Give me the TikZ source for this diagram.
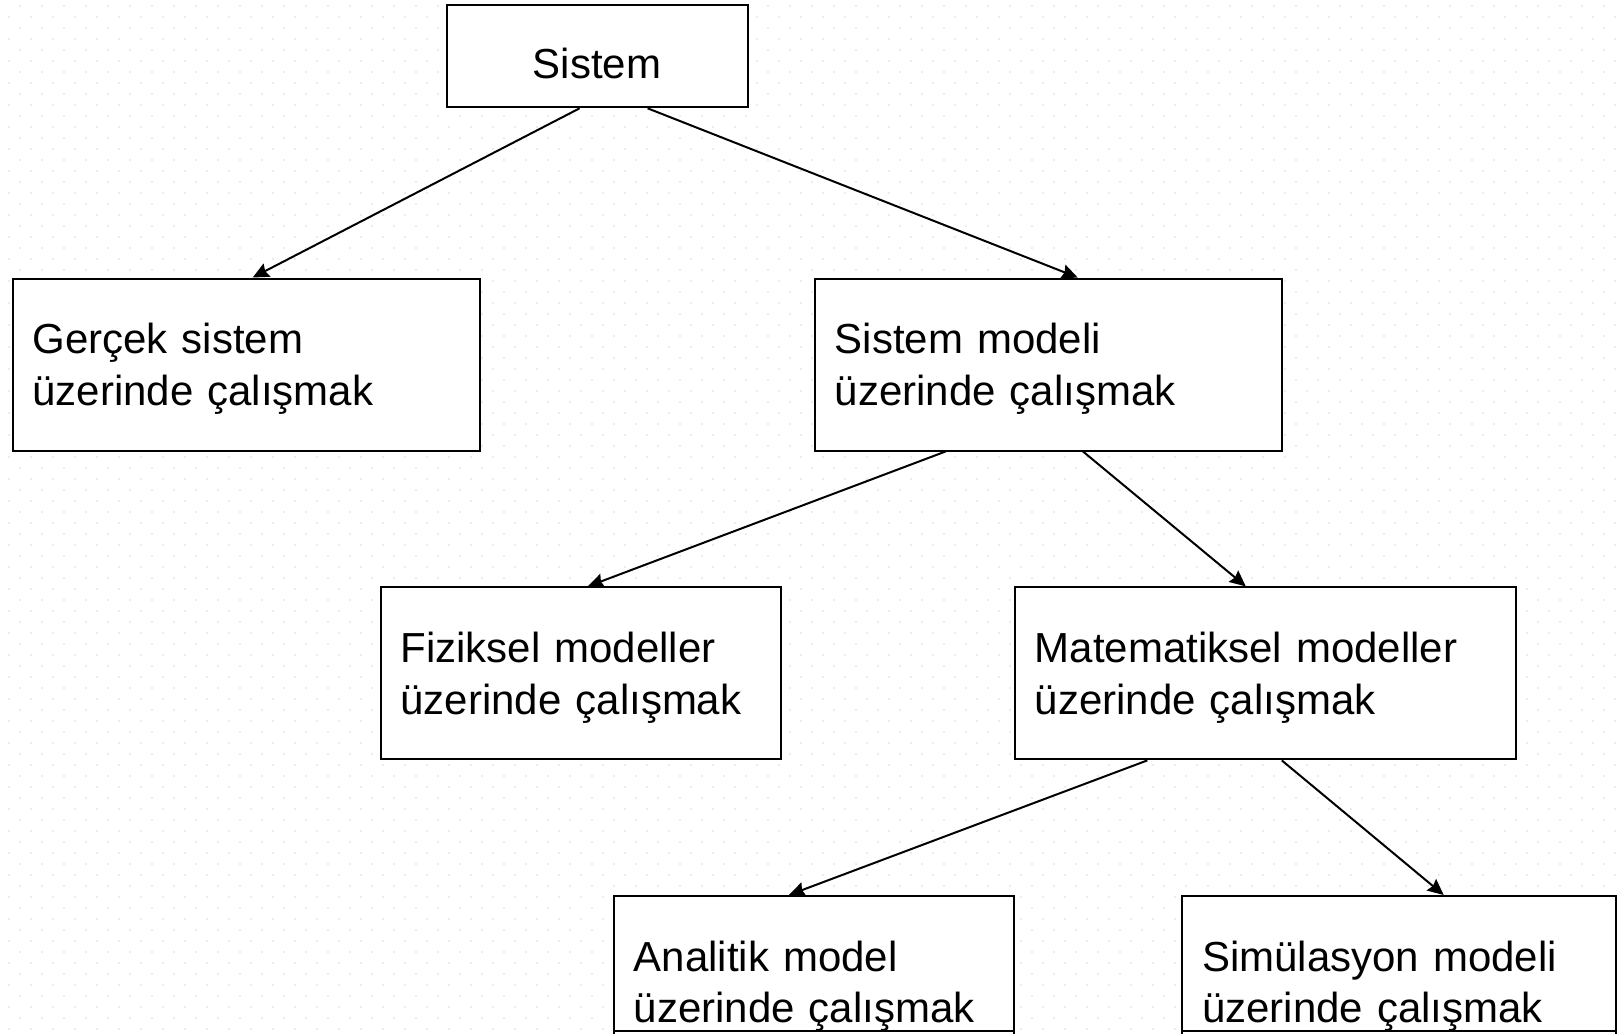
\documentclass[tikz,border=0pt]{standalone}
\usepackage{fontspec}
\setmainfont{Liberation Sans}
\usetikzlibrary{arrows.meta,calc}

\begin{document}
\begin{tikzpicture}[x=0.75pt,y=-0.75pt,
  box/.style={draw,fill=white,line width=1.5pt,minimum height=129pt,
    inner xsep=15pt,align=left,font=\fontsize{31.5}{38.7}\selectfont},
  twoline/.style={box,execute at begin node={\rule{0pt}{29pt}}},
  link/.style={line width=1.5pt,-{Stealth[length=12pt,width=11pt,inset=1.5pt]}}]
  % page 1617x1033 px, y runs down
  \useasboundingbox (0,0) rectangle (1617,1033);
  \clip (0,0) rectangle (1617,1033);
  % dotted background grid
  \foreach \i in {0,...,73}{
    \foreach \j in {0,...,46}{
      \fill[gray!15] (19+22*\i,4.7+22*\j) rectangle +(2,2);
      \fill[gray!15] (8+22*\i,15.7+22*\j) rectangle +(2,2);}}
  % boxes
  \node[box,minimum width=225.75pt,minimum height=76.5pt,align=center,
    text height=33pt,text depth=0pt] (sys) at (597.1,56.3) {Sistem};
  \node[twoline,text width=320.25pt] (real) at (246,364.5) {Gerçek sistem\\üzerinde çalışmak};
  \node[twoline,text width=320.25pt] (model) at (1048.3,364.5) {Sistem modeli\\üzerinde çalışmak};
  \node[twoline,text width=270pt] (phys) at (580.6,673.4) {Fiziksel modeller\\üzerinde çalışmak};
  \node[twoline,text width=345.75pt] (math) at (1265.3,673.4) {Matematiksel modeller\\üzerinde çalışmak};
  \node[twoline,text width=270pt] (ana) at (813.7,982) {Analitik model\\üzerinde çalışmak};
  \node[twoline,text width=295.5pt] (sim) at (1399,982) {Simülasyon modeli\\üzerinde çalışmak};
  % bottom row is cut by the page edge
  \coordinate (cut) at (0,1031);
  \draw[line width=1.5pt] (ana.south west |- cut) -- (ana.south east |- cut);
  \draw[line width=1.5pt] (sim.south west |- cut) -- (sim.south east |- cut);
  % arrows
  \draw[link] ($(sys.south)+(-17.5,0)$) -- ($(real.north)+(6.7,0)$);
  \draw[link] ($(sys.south)+(50.5,0)$) -- ($(model.north)+(29.4,0)$);
  \draw[link] ($(model.south)+(-102.8,0)$) -- ($(phys.north)+(7.2,0)$);
  \draw[link] ($(model.south)+(34.7,0)$) -- ($(math.north)+(-19.5,0)$);
  \draw[link] ($(math.south)+(-118,0)$) -- ($(ana.north)+(-24.8,0)$);
  \draw[link] ($(math.south)+(16.5,0)$) -- ($(sim.north)+(44.7,0)$);
\end{tikzpicture}
\end{document}
